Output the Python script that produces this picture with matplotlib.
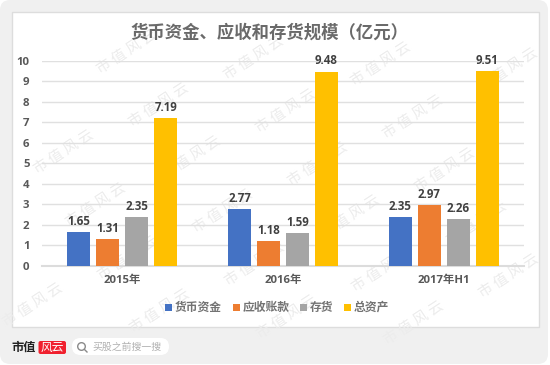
import matplotlib
matplotlib.use('Agg')
import matplotlib.pyplot as plt
from matplotlib.patches import FancyBboxPatch, Rectangle, Circle
from matplotlib.lines import Line2D
import numpy as np

plt.rcParams['font.family'] = ['Open Sans', 'Noto Sans CJK SC', 'DejaVu Sans']
cjk = ['Noto Sans CJK SC', 'DejaVu Sans']

periods = ['2015年', '2016年', '2017年H1']
cash = [1.65, 2.77, 2.35]
receivables = [1.31, 1.18, 2.97]
inventory = [2.35, 1.59, 2.26]
total_assets = [7.19, 9.48, 9.51]
series_names = ['货币资金', '应收账款', '存货', '总资产']
series_colors = ['#4472C4', '#ED7D31', '#A5A5A5', '#FFC000']
title = '货币资金、应收和存货规模（亿元）'
W, H = 550, 365

fig = plt.figure(figsize=(W / 100, H / 100), dpi=100)

# page background, in pixel coordinates
bg = fig.add_axes([0, 0, 1, 1], zorder=0)
bg.set_xlim(0, W)
bg.set_ylim(H, 0)
bg.axis('off')
bg.add_patch(FancyBboxPatch((0, 0), 548, 364, boxstyle='round,pad=0,rounding_size=10',
                            fc='#f0f0f0', ec='none'))
bg.add_patch(Rectangle((11.5, 11.5), 527, 315, fc='white', ec='#dddddd', lw=1))

# watermark lattice, under the bars
for a in range(-5, 9):
    for b in range(-5, 9):
        wx = 127 + 32 * a + 95 * b
        wy = 52 + 53 * a - 47 * b
        if 32 < wx < W - 32 and 24 < wy < H - 24:
            bg.text(wx, wy, '市 值 风 云', ha='center', va='center', fontsize=10.5, rotation=33,
                    color='#ececec', family=cjk)

ax = fig.add_axes([42 / W, 1 - 265.5 / H, 482 / W, 204.5 / H], zorder=1)
ax.patch.set_alpha(0)
x = np.arange(len(periods))
pitch = 0.18
width = 0.143
all_series = [cash, receivables, inventory, total_assets]
for i, vals in enumerate(all_series):
    bars = ax.bar(x + (i - 1.5) * pitch, vals, width, color=series_colors[i], zorder=3)
    for rect, v in zip(bars, vals):
        ax.annotate('%.2f' % v, (rect.get_x() + rect.get_width() / 2, v), xytext=(0, 3),
                    textcoords='offset points', ha='center', va='bottom',
                    fontsize=8.3, fontweight='bold', color='#404040', zorder=4)

ax.set_xlim(-0.5, 2.5)
ax.set_ylim(0, 10)
ax.set_yticks(range(11))
ax.set_xticks(x)
ax.set_xticklabels(periods)
ax.tick_params(axis='both', length=0, labelsize=8.2, labelcolor='#595959')
ax.tick_params(axis='x', pad=7)
ax.tick_params(axis='y', pad=9)
for lbl in ax.get_xticklabels() + ax.get_yticklabels():
    lbl.set_fontweight('bold')
ax.grid(axis='y', color='#e0e0e0', lw=1, zorder=0)
ax.set_axisbelow(True)
for s in ['top', 'left', 'right']:
    ax.spines[s].set_visible(False)
ax.spines['bottom'].set_color('#dcdcdc')
ax.spines['bottom'].set_linewidth(1.5)

# chart title and legend
fg = fig.add_axes([0, 0, 1, 1], zorder=2)
fg.set_xlim(0, W)
fg.set_ylim(H, 0)
fg.axis('off')
fg.patch.set_alpha(0)
fg.text(269.5, 33, title, ha='center', va='center', fontsize=12.5, fontweight='bold', color='#6a6a6a', family=cjk)

legend_x = [165, 233, 300, 344]
for name, color, lx in zip(series_names, series_colors, legend_x):
    fg.add_patch(Rectangle((lx, 304), 6.5, 7, fc=color, ec='none'))
    fg.text(lx + 9.5, 307.5, name, ha='left', va='center', fontsize=8.5, fontweight='bold',
            color='#737373', family=cjk)

# logo and search box
fg.text(11, 347.5, '市值', ha='left', va='center', fontsize=8.8, fontweight='bold', color='#222222', family=cjk)
fg.add_patch(FancyBboxPatch((38.5, 341), 27.5, 13, boxstyle='round,pad=0,rounding_size=2', fc='#f0202e', ec='none'))
fg.text(52, 347.5, '风云', ha='center', va='center', fontsize=8.5, color='white', style='italic', family=cjk)
fg.add_patch(FancyBboxPatch((72, 338), 97, 17, boxstyle='round,pad=0,rounding_size=8.5', fc='white', ec='none'))
fg.add_patch(Circle((81.5, 346.5), 3.8, fc='none', ec='#8a8a8a', lw=1))
fg.add_line(Line2D([84.3, 87], [349.3, 352], color='#8a8a8a', lw=1))
fg.text(92, 347, '买股之前搜一搜', ha='left', va='center', fontsize=7.1, color='#b0b0b0', family=cjk)

fig.savefig('out.png', dpi=100, facecolor='white')
